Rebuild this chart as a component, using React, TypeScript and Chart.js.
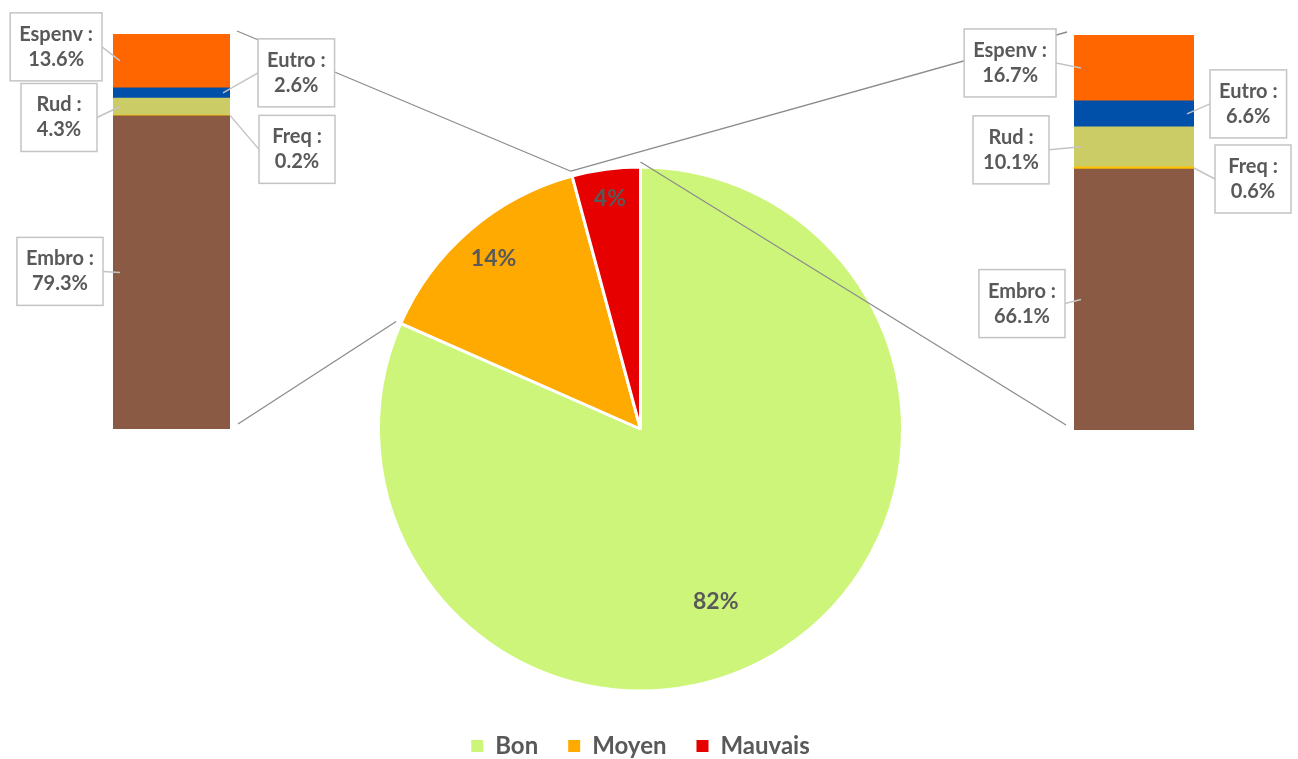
import { useEffect, useRef } from "react";
import { Chart, registerables } from "chart.js";

Chart.register(...registerables);

// ---- data ----
const pieCategories = ["Bon", "Moyen", "Mauvais"];
const pieValues = [81.6, 14.2, 4.2];
const pieColors = ["#CDF57A", "#FFAA00", "#E60000"];

const barSeries = ["Embro", "Freq", "Rud", "Eutro", "Espenv"];
const barColors = ["#8A5A44", "#FFC000", "#CCCC66", "#0050AA", "#FF6600"];
const moyenValues = [79.3, 0.2, 4.3, 2.6, 13.6];
const mauvaisValues = [66.1, 0.6, 10.1, 6.6, 16.7];

// ---- layout / style constants ----
const W = 1298;
const H = 759;
const FONT = "Lato, 'Open Sans', 'DejaVu Sans', sans-serif";
const TEXT = "#595959";

type LabelPlace = { side: "left" | "right"; gap: number; dy: number };

const moyenLabelLayout: LabelPlace[] = [
  { side: "left", gap: 10, dy: -1 },
  { side: "right", gap: 29, dy: 34 },
  { side: "left", gap: 16, dy: 11 },
  { side: "right", gap: 28, dy: -20 },
  { side: "left", gap: 11, dy: -14 },
];
const mauvaisLabelLayout: LabelPlace[] = [
  { side: "left", gap: 9, dy: 4 },
  { side: "right", gap: 21, dy: 11 },
  { side: "left", gap: 25, dy: 3 },
  { side: "right", gap: 16, dy: -10 },
  { side: "left", gap: 18, dy: -5 },
];
const pieLabelPlacement = [
  { angleShift: 9.6, radius: 0.72 },
  { angleShift: 0, radius: 0.86 },
  { angleShift: 0, radius: 0.886 },
];

const sum = (a: number[]) => a.reduce((s, v) => s + v, 0);

const pieLabelPlugin = {
  id: "pieLabels",
  afterDatasetsDraw(chart: any) {
    const ctx = chart.ctx;
    const meta = chart.getDatasetMeta(0);
    const total = sum(chart.data.datasets[0].data as number[]);
    ctx.save();
    ctx.font = `bold 23px ${FONT}`;
    ctx.fillStyle = TEXT;
    ctx.textAlign = "center";
    ctx.textBaseline = "middle";
    meta.data.forEach((arc: any, i: number) => {
      const p = arc.getProps(["x", "y", "startAngle", "endAngle", "outerRadius"], true);
      const place = pieLabelPlacement[i];
      const mid = (p.startAngle + p.endAngle) / 2 + (place.angleShift * Math.PI) / 180;
      const r = p.outerRadius * place.radius;
      const v = chart.data.datasets[0].data[i] as number;
      ctx.fillText(Math.round((v / total) * 100) + "%", p.x + Math.cos(mid) * r, p.y + Math.sin(mid) * r);
    });
    ctx.restore();
  },
};

function makeConnectorPlugin(getPie: () => any, slice: number, side: "left" | "right") {
  return {
    id: "connectors",
    beforeDatasetsDraw(chart: any) {
      const pie = getPie();
      if (!pie) return;
      const arc = pie.getDatasetMeta(0).data[slice];
      const a = arc.getProps(["x", "y", "startAngle", "endAngle", "outerRadius"], true);
      const n = chart.data.datasets.length;
      const first = chart.getDatasetMeta(0).data[0].getProps(["x", "y", "base", "width"], true);
      const last = chart.getDatasetMeta(n - 1).data[0].getProps(["x", "y", "base", "width"], true);
      const top = Math.min(last.y, last.base);
      const bottom = Math.max(first.y, first.base);
      const ex = side === "left" ? first.x + first.width / 2 + 7 : first.x - first.width / 2 - 7;
      const R = a.outerRadius + 5;
      const topAngle = side === "left" ? a.endAngle : a.startAngle;
      const botAngle = side === "left" ? a.startAngle : a.endAngle;
      const ctx = chart.ctx;
      ctx.save();
      ctx.strokeStyle = "#8C8C8C";
      ctx.lineWidth = 1.3;
      ctx.beginPath();
      ctx.moveTo(ex, top - 3);
      ctx.lineTo(a.x + Math.cos(topAngle) * R, a.y + Math.sin(topAngle) * R);
      ctx.moveTo(side === "left" ? ex + 1 : ex - 1, bottom - 5);
      ctx.lineTo(a.x + Math.cos(botAngle) * R, a.y + Math.sin(botAngle) * R);
      ctx.stroke();
      ctx.restore();
    },
  };
}

function makeCalloutPlugin(layout: LabelPlace[]) {
  return {
    id: "callouts",
    afterDatasetsDraw(chart: any) {
      const ctx = chart.ctx;
      ctx.save();
      ctx.font = `bold 20px ${FONT}`;
      chart.data.datasets.forEach((ds: any, i: number) => {
        const el = chart.getDatasetMeta(i).data[0].getProps(["x", "y", "base", "width"], true);
        const top = Math.min(el.y, el.base);
        const bot = Math.max(el.y, el.base);
        const segMid = (top + bot) / 2;
        const L = layout[i];
        const line1 = ds.label + " :";
        const line2 = (ds.data[0] as number).toFixed(1) + "%";
        const w = Math.max(76, Math.max(ctx.measureText(line1).width, ctx.measureText(line2).width) + 18);
        const h = 68;
        const left = el.x - el.width / 2;
        const right = el.x + el.width / 2;
        const bx = L.side === "left" ? left - L.gap - w : right + L.gap;
        const cy = segMid + L.dy;
        const by = cy - h / 2;
        const inset = bot - top > 4 ? 7 : 0;
        const tx = L.side === "left" ? left + inset : right - inset;
        const sx = L.side === "left" ? bx + w : bx;
        ctx.strokeStyle = "#C4C4C4";
        ctx.lineWidth = 1.5;
        ctx.beginPath();
        ctx.moveTo(sx, cy);
        ctx.lineTo(tx, segMid);
        ctx.stroke();
        ctx.fillStyle = "#FFFFFF";
        ctx.fillRect(bx, by, w, h);
        ctx.strokeRect(bx, by, w, h);
        ctx.fillStyle = TEXT;
        ctx.textAlign = "center";
        ctx.textBaseline = "middle";
        ctx.fillText(line1, bx + w / 2, cy - 12.5);
        ctx.fillText(line2, bx + w / 2, cy + 12.5);
      });
      ctx.restore();
    },
  };
}

function barConfig(values: number[], area: { left: number; right: number; top: number; bottom: number }, plugins: any[]) {
  return {
    type: "bar" as const,
    data: {
      labels: [""],
      datasets: barSeries.map((s, i) => ({
        label: s,
        data: [values[i]],
        backgroundColor: barColors[i],
        borderWidth: 0,
        barPercentage: 1,
        categoryPercentage: 1,
        stack: "s",
      })),
    },
    options: {
      responsive: false,
      animation: false as const,
      events: [],
      layout: { padding: { left: area.left, right: W - area.right, top: area.top, bottom: H - area.bottom } },
      scales: {
        x: { stacked: true, display: false },
        y: { stacked: true, display: false, min: 0, max: sum(values) },
      },
      plugins: { legend: { display: false }, tooltip: { enabled: false } },
    },
    plugins,
  };
}

export default function App() {
  const pieRef = useRef<HTMLCanvasElement>(null);
  const leftRef = useRef<HTMLCanvasElement>(null);
  const rightRef = useRef<HTMLCanvasElement>(null);

  useEffect(() => {
    if (!pieRef.current || !leftRef.current || !rightRef.current) return;
    const pie = new Chart(pieRef.current, {
      type: "pie",
      data: {
        labels: pieCategories,
        datasets: [
          {
            data: pieValues,
            backgroundColor: pieColors,
            borderColor: "#FFFFFF",
            borderWidth: 3,
            radius: 262,
          } as any,
        ],
      },
      options: {
        responsive: false,
        animation: false,
        events: [],
        layout: { padding: { left: 0, right: 17, top: 154, bottom: -9 } },
        plugins: {
          tooltip: { enabled: false },
          legend: {
            position: "bottom",
            labels: {
              boxWidth: 12,
              boxHeight: 12,
              padding: 30,
              color: TEXT,
              font: { family: FONT, size: 24, weight: "bold" },
              generateLabels: (chart: any) => {
                const items = (Chart as any).overrides.pie.plugins.legend.labels.generateLabels(chart);
                return items.map((it: any) => ({ ...it, lineWidth: 0, strokeStyle: "rgba(0,0,0,0)" }));
              },
            },
          },
        },
      },
      plugins: [pieLabelPlugin],
    });

    const left = new Chart(
      leftRef.current,
      barConfig(moyenValues, { left: 113, right: 230, top: 34, bottom: 429 }, [
        makeConnectorPlugin(() => pie, 1, "left"),
        makeCalloutPlugin(moyenLabelLayout),
      ]) as any
    );
    const right = new Chart(
      rightRef.current,
      barConfig(mauvaisValues, { left: 1074, right: 1194, top: 35, bottom: 430 }, [
        makeConnectorPlugin(() => pie, 2, "right"),
        makeCalloutPlugin(mauvaisLabelLayout),
      ]) as any
    );

    return () => {
      left.destroy();
      right.destroy();
      pie.destroy();
    };
  }, []);

  const cs: React.CSSProperties = { position: "absolute", left: 0, top: 0, width: W, height: H };
  return (
    <div style={{ position: "absolute", left: 0, top: 0, width: W, height: H, background: "#FFFFFF", overflow: "hidden" }}>
      <canvas ref={pieRef} width={W} height={H} style={cs} />
      <canvas ref={leftRef} width={W} height={H} style={cs} />
      <canvas ref={rightRef} width={W} height={H} style={cs} />
    </div>
  );
}
